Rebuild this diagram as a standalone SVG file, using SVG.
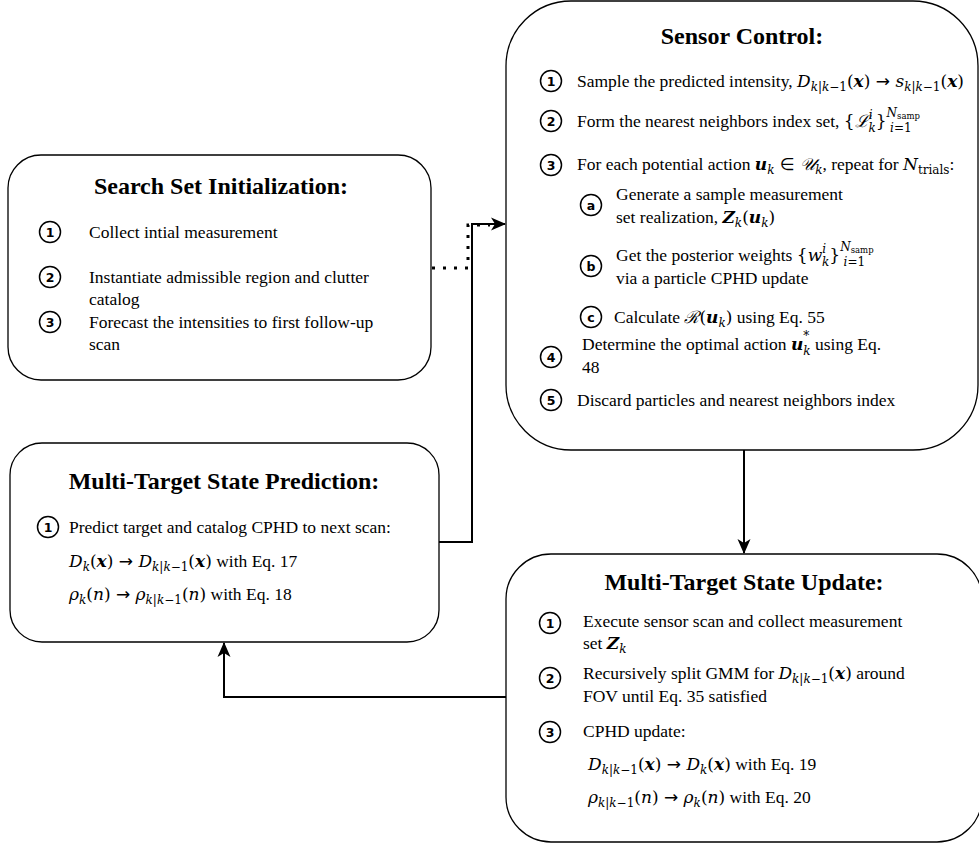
<svg xmlns="http://www.w3.org/2000/svg" width="979" height="845" viewBox="0 0 979 845">
<defs>
<style>
.box{fill:#fff;stroke:#000;stroke-width:1.3}
.title{font-family:Liberation Serif,Times New Roman,serif;font-weight:bold;font-size:24px;text-anchor:middle;fill:#000}
.t{font-family:Liberation Serif,Times New Roman,serif;font-size:17.5px;fill:#000}
.nc{fill:#fff;stroke:#000;stroke-width:1.5}
.n{font-family:DejaVu Sans,sans-serif;font-weight:bold;font-size:12.5px;text-anchor:middle;fill:#000}
.mi{font-family:DejaVu Serif,serif;font-style:italic;font-size:17px}
.mb{font-family:DejaVu Serif,serif;font-style:italic;font-weight:bold;font-size:17px}
.mp{font-family:DejaVu Serif,serif;font-size:17px}
.si{font-family:DejaVu Serif,serif;font-style:italic;font-size:12px}
.s{font-family:DejaVu Serif,serif;font-size:12px}
.ss{font-family:DejaVu Serif,serif;font-size:8.5px}
.ar{font-family:DejaVu Sans,sans-serif;font-size:17px}
.conn{fill:none;stroke:#000;stroke-width:2}
.dot{fill:none;stroke:#000;stroke-width:3;stroke-dasharray:3 8}
</style>
<marker id="arr" markerUnits="userSpaceOnUse" markerWidth="15" markerHeight="15" viewBox="0 0 15 15" refX="14" refY="7.5" orient="auto">
<path d="M0,1 L15,7.5 L0,14 L4,7.5 Z" fill="#000"/>
</marker>
</defs>
<rect width="979" height="845" fill="#fff"/>

<g id="connectors">
<path class="dot" d="M432,268 H468 V225 H490"/>
<path class="conn" d="M439,542 H472 V224 H505" marker-end="url(#arr)"/>
<path class="conn" d="M744,450 V553" marker-end="url(#arr)"/>
<path class="conn" d="M506,697 H224 V643" marker-end="url(#arr)"/>
</g>

<g id="search-set-initialization">
<rect class="box" x="8" y="155" width="423" height="225" rx="33"/>
<text class="title" x="221" y="194">Search Set Initialization:</text>
<circle class="nc" cx="50" cy="232" r="10.5"/><text class="n" x="50" y="236.5">1</text>
<text class="t" x="89" y="238">Collect intial measurement</text>
<circle class="nc" cx="50" cy="277" r="10.5"/><text class="n" x="50" y="281.5">2</text>
<text class="t" x="89" y="283">Instantiate admissible region and clutter</text>
<text class="t" x="89" y="305">catalog</text>
<circle class="nc" cx="50" cy="322" r="10.5"/><text class="n" x="50" y="326.5">3</text>
<text class="t" x="89" y="328">Forecast the intensities to first follow-up</text>
<text class="t" x="89" y="350">scan</text>
</g>

<g id="sensor-control">
<rect class="box" x="506" y="1" width="472" height="449" rx="65"/>
<text class="title" x="742" y="44">Sensor Control:</text>
<circle class="nc" cx="551" cy="81" r="10.5"/><text class="n" x="551" y="85.5">1</text>
<text class="t" x="577" y="87">Sample the predicted intensity, <tspan class="mi">D</tspan><tspan class="si" dy="4">k</tspan><tspan class="s">|</tspan><tspan class="si">k</tspan><tspan class="s">−1</tspan><tspan class="mp" dy="-4">(</tspan><tspan class="mb">x</tspan><tspan class="mp">)</tspan><tspan class="ar"> → </tspan><tspan class="mi">s</tspan><tspan class="si" dy="4">k</tspan><tspan class="s">|</tspan><tspan class="si">k</tspan><tspan class="s">−1</tspan><tspan class="mp" dy="-4">(</tspan><tspan class="mb">x</tspan><tspan class="mp">)</tspan></text>
<circle class="nc" cx="551" cy="121" r="10.5"/><text class="n" x="551" y="125.5">2</text>
<text class="t" x="577" y="127">Form the nearest neighbors index set, <tspan class="mp">{</tspan><tspan class="mi">ℒ</tspan><tspan class="si" dy="-8">i</tspan><tspan class="si" dx="-4" dy="13">k</tspan><tspan class="mp" dy="-5">}</tspan><tspan class="si" dy="-10">N</tspan><tspan class="ss" dy="2">samp</tspan><tspan class="si" dx="-30" dy="13">i</tspan><tspan class="s">=1</tspan></text>
<circle class="nc" cx="551" cy="165" r="10.5"/><text class="n" x="551" y="169.5">3</text>
<text class="t" x="577" y="170">For each potential action <tspan class="mb">u</tspan><tspan class="si" dy="4">k</tspan><tspan class="ar" dy="-4"> ∈ </tspan><tspan class="mi">𝒰</tspan><tspan class="si" dy="4">k</tspan><tspan dy="-4">, repeat for </tspan><tspan class="mi">N</tspan><tspan class="s" dy="4">trials</tspan><tspan dy="-4">:</tspan></text>
<circle class="nc" cx="591" cy="205" r="10.5"/><text class="n" x="591" y="209.5">a</text>
<text class="t" x="616" y="200">Generate a sample measurement</text>
<text class="t" x="616" y="223">set realization, <tspan class="mb">Z</tspan><tspan class="si" dy="4">k</tspan><tspan class="mp" dy="-4">(</tspan><tspan class="mb">u</tspan><tspan class="si" dy="4">k</tspan><tspan class="mp" dy="-4">)</tspan></text>
<circle class="nc" cx="591" cy="266" r="10.5"/><text class="n" x="591" y="270.5">b</text>
<text class="t" x="616" y="261">Get the posterior weights <tspan class="mp">{</tspan><tspan class="mi">w</tspan><tspan class="si" dy="-8">i</tspan><tspan class="si" dx="-4" dy="13">k</tspan><tspan class="mp" dy="-5">}</tspan><tspan class="si" dy="-10">N</tspan><tspan class="ss" dy="2">samp</tspan><tspan class="si" dx="-30" dy="13">i</tspan><tspan class="s">=1</tspan></text>
<text class="t" x="616" y="284">via a particle CPHD update</text>
<circle class="nc" cx="591" cy="317" r="10.5"/><text class="n" x="591" y="321.5">c</text>
<text class="t" x="614" y="323">Calculate <tspan class="mi">ℛ</tspan><tspan class="mp">(</tspan><tspan class="mb">u</tspan><tspan class="si" dy="4">k</tspan><tspan class="mp" dy="-4">)</tspan> using Eq. 55</text>
<circle class="nc" cx="551" cy="357" r="10.5"/><text class="n" x="551" y="361.5">4</text>
<text class="t" x="582" y="350">Determine the optimal action <tspan class="mb">u</tspan><tspan class="s" dy="-10">*</tspan><tspan class="si" dx="-6" dy="15">k</tspan><tspan dy="-5"> using Eq.</tspan></text>
<text class="t" x="582" y="373">48</text>
<circle class="nc" cx="551" cy="400" r="10.5"/><text class="n" x="551" y="404.5">5</text>
<text class="t" x="577" y="406">Discard particles and nearest neighbors index</text>
</g>

<g id="multi-target-state-prediction">
<rect class="box" x="10" y="443" width="429" height="199" rx="32"/>
<text class="title" x="224" y="489">Multi-Target State Prediction:</text>
<circle class="nc" cx="48" cy="527" r="10.5"/><text class="n" x="48" y="531.5">1</text>
<text class="t" x="69" y="533">Predict target and catalog CPHD to next scan:</text>
<text class="t" x="69" y="567"><tspan class="mi">D</tspan><tspan class="si" dy="4">k</tspan><tspan class="mp" dy="-4">(</tspan><tspan class="mb">x</tspan><tspan class="mp">)</tspan><tspan class="ar"> → </tspan><tspan class="mi">D</tspan><tspan class="si" dy="4">k</tspan><tspan class="s">|</tspan><tspan class="si">k</tspan><tspan class="s">−1</tspan><tspan class="mp" dy="-4">(</tspan><tspan class="mb">x</tspan><tspan class="mp">)</tspan> with Eq. 17</text>
<text class="t" x="69" y="600"><tspan class="mi">ρ</tspan><tspan class="si" dy="4">k</tspan><tspan class="mp" dy="-4">(</tspan><tspan class="mi">n</tspan><tspan class="mp">)</tspan><tspan class="ar"> → </tspan><tspan class="mi">ρ</tspan><tspan class="si" dy="4">k</tspan><tspan class="s">|</tspan><tspan class="si">k</tspan><tspan class="s">−1</tspan><tspan class="mp" dy="-4">(</tspan><tspan class="mi">n</tspan><tspan class="mp">)</tspan> with Eq. 18</text>
</g>

<g id="multi-target-state-update">
<rect class="box" x="506" y="554" width="476" height="288" rx="45"/>
<text class="title" x="744" y="590">Multi-Target State Update:</text>
<circle class="nc" cx="550" cy="623" r="10.5"/><text class="n" x="550" y="627.5">1</text>
<text class="t" x="583" y="627">Execute sensor scan and collect measurement</text>
<text class="t" x="583" y="649">set <tspan class="mb">Z</tspan><tspan class="si" dy="4">k</tspan></text>
<circle class="nc" cx="550" cy="678" r="10.5"/><text class="n" x="550" y="682.5">2</text>
<text class="t" x="583" y="679">Recursively split GMM for <tspan class="mi">D</tspan><tspan class="si" dy="4">k</tspan><tspan class="s">|</tspan><tspan class="si">k</tspan><tspan class="s">−1</tspan><tspan class="mp" dy="-4">(</tspan><tspan class="mb">x</tspan><tspan class="mp">)</tspan> around</text>
<text class="t" x="583" y="702">FOV until Eq. 35 satisfied</text>
<circle class="nc" cx="550" cy="732" r="10.5"/><text class="n" x="550" y="736.5">3</text>
<text class="t" x="583" y="737">CPHD update:</text>
<text class="t" x="588" y="770"><tspan class="mi">D</tspan><tspan class="si" dy="4">k</tspan><tspan class="s">|</tspan><tspan class="si">k</tspan><tspan class="s">−1</tspan><tspan class="mp" dy="-4">(</tspan><tspan class="mb">x</tspan><tspan class="mp">)</tspan><tspan class="ar"> → </tspan><tspan class="mi">D</tspan><tspan class="si" dy="4">k</tspan><tspan class="mp" dy="-4">(</tspan><tspan class="mb">x</tspan><tspan class="mp">)</tspan> with Eq. 19</text>
<text class="t" x="588" y="803"><tspan class="mi">ρ</tspan><tspan class="si" dy="4">k</tspan><tspan class="s">|</tspan><tspan class="si">k</tspan><tspan class="s">−1</tspan><tspan class="mp" dy="-4">(</tspan><tspan class="mi">n</tspan><tspan class="mp">)</tspan><tspan class="ar"> → </tspan><tspan class="mi">ρ</tspan><tspan class="si" dy="4">k</tspan><tspan class="mp" dy="-4">(</tspan><tspan class="mi">n</tspan><tspan class="mp">)</tspan> with Eq. 20</text>
</g>
</svg>
